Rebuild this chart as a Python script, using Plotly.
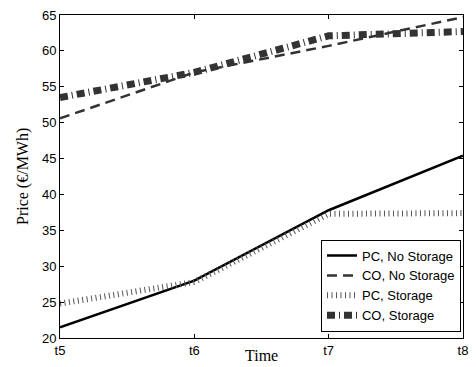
import plotly.graph_objects as go

times = ["t5", "t6", "t7", "t8"]
pc_no_storage = [21.5, 28.0, 37.8, 45.4]
co_no_storage = [50.6, 57.0, 60.7, 64.7]
pc_storage = [24.8, 27.8, 37.3, 37.4]
co_storage = [53.5, 57.0, 62.1, 62.7]

fig = go.Figure()
fig.add_trace(go.Scatter(x=times, y=pc_no_storage, mode="lines", name="PC, No Storage",
                         line=dict(color="black", width=2.5)))
fig.add_trace(go.Scatter(x=times, y=co_no_storage, mode="lines", name="CO, No Storage",
                         line=dict(color="#333333", width=2.5, dash="10px,6px")))
fig.add_trace(go.Scatter(x=times, y=pc_storage, mode="lines", name="PC, Storage",
                         line=dict(color="#555555", width=6, dash="1px,3.5px")))
fig.add_trace(go.Scatter(x=times, y=co_storage, mode="lines", name="CO, Storage",
                         line=dict(color="#333333", width=7, dash="8px,4px,1px,4px")))

axis_common = dict(showgrid=False, zeroline=False, showline=True, linecolor="black",
                   linewidth=1, mirror="ticks", ticks="inside", ticklen=4,
                   tickcolor="black", tickfont=dict(family="Liberation Sans, Arial", size=13, color="black"))

fig.update_layout(
    width=476, height=367,
    margin=dict(l=60, r=8, t=15, b=29),
    plot_bgcolor="white", paper_bgcolor="white",
    xaxis=dict(range=[0, 3], **axis_common),
    yaxis=dict(range=[20, 65], tickvals=[20, 25, 30, 35, 40, 45, 50, 55, 60, 65], **axis_common),
    showlegend=True,
    legend=dict(x=0.995, y=0.02, xanchor="right", yanchor="bottom",
                bordercolor="black", borderwidth=1, bgcolor="white",
                font=dict(family="Liberation Sans, Arial", size=13, color="black"),
                tracegroupgap=0),
    annotations=[
        dict(text="Time", xref="paper", yref="paper", x=0.5, y=-0.055,
             xanchor="center", yanchor="middle", showarrow=False,
             font=dict(family="Liberation Serif, Times New Roman", size=16, color="black")),
        dict(text="Price (€/MWh)", xref="paper", yref="paper", x=-0.093, y=0.5,
             xanchor="center", yanchor="middle", showarrow=False, textangle=-90,
             font=dict(family="Liberation Serif, Times New Roman", size=16, color="black")),
    ],
)

fig.write_html("out.html")
